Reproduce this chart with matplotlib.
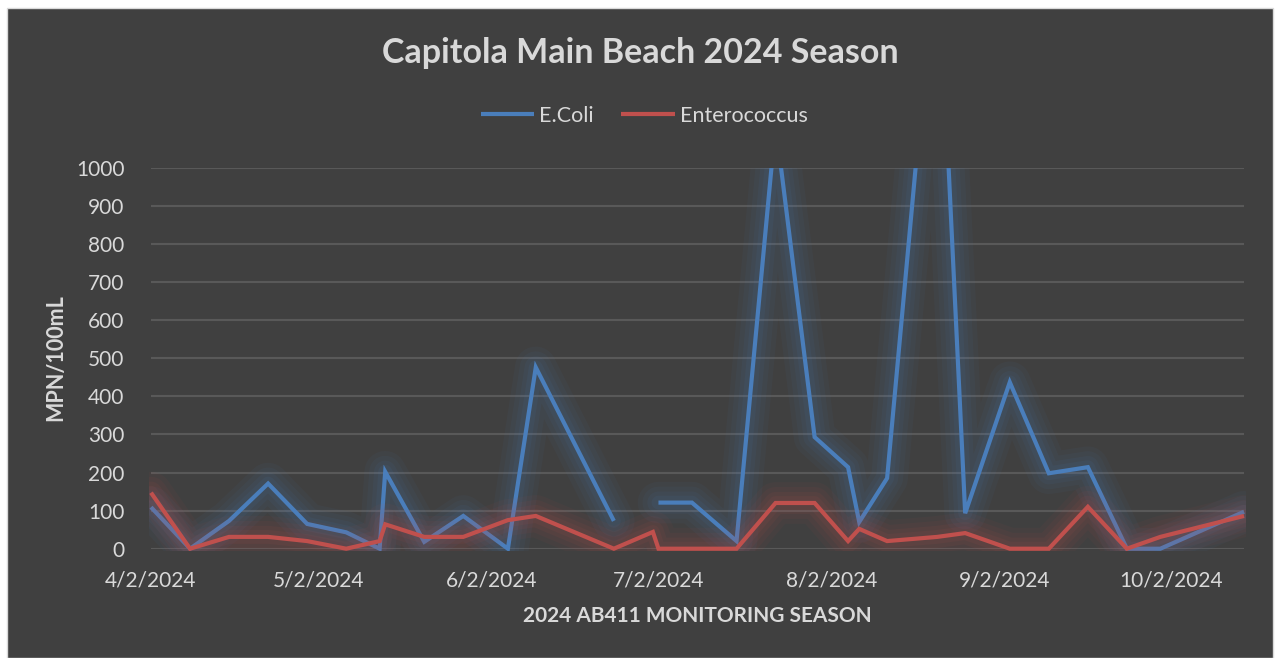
import numpy as np
import pandas as pd
import matplotlib
matplotlib.use("Agg")
import matplotlib.pyplot as plt
import matplotlib.dates as mdates
import matplotlib.patheffects as pe
from matplotlib.patches import Rectangle

plt.rcParams['font.family'] = ['Lato', 'DejaVu Sans']

# sample dates and results (MPN/100mL)
dates = ["2024-04-02", "2024-04-09", "2024-04-16", "2024-04-23", "2024-04-30",
         "2024-05-07", "2024-05-13", "2024-05-14", "2024-05-21", "2024-05-28",
         "2024-06-05", "2024-06-10", "2024-06-24", "2024-07-01", "2024-07-02",
         "2024-07-08", "2024-07-16", "2024-07-23", "2024-07-30", "2024-08-05",
         "2024-08-07", "2024-08-12", "2024-08-21", "2024-08-26", "2024-09-03",
         "2024-09-10", "2024-09-17", "2024-09-24", "2024-09-30", "2024-10-15"]
ecoli = [109, 0, 73, 171, 65, 43, 0, 202, 18, 86,
         0, 476, 73, None, 121, 121, 20, 1115, 293, 214,
         70, 185, 1620, 93, 437, 198, 214, 0, 0, 97]
entero = [147, 0, 31, 31, 20, 0, 20, 64, 31, 31,
          75, 86, 0, 44, 0, 0, 0, 120, 120, 20,
          52, 20, 31, 41, 0, 0, 110, 0, 31, 86]

x = pd.to_datetime(dates)
ecoli = np.array([np.nan if v is None else v for v in ecoli], dtype=float)
entero = np.array(entero, dtype=float)

W, H = 1276, 658
bg = '#404040'
txt = '#D9D9D9'
blue = '#4A7EBB'
red = '#C0504D'

fig = plt.figure(figsize=(W / 100, H / 100), dpi=100, facecolor='white')
fig.patches.append(Rectangle((7 / W, 0), (1273 - 7) / W, (H - 8) / H,
                             transform=fig.transFigure, facecolor=bg,
                             edgecolor='#d9d9d9', linewidth=1, zorder=-5))

ax = fig.add_axes([151 / W, (H - 548.7) / H, (1244 - 151) / W, 381 / H])
ax.set_facecolor('none')
ax.set_zorder(2)

for v in range(0, 1001, 100):
    ax.axhline(v, color='#595959', linewidth=1.5, zorder=1)


def glow(color):
    kw = dict(foreground=color, joinstyle='round', capstyle='round')
    return [pe.Stroke(linewidth=30, alpha=0.05, **kw),
            pe.Stroke(linewidth=23, alpha=0.06, **kw),
            pe.Stroke(linewidth=16, alpha=0.07, **kw),
            pe.Stroke(linewidth=10, alpha=0.08, **kw),
            pe.Normal()]


clip = Rectangle((-0.002, -0.006), 1.004, 1.006, transform=ax.transAxes)
for y, c, lab in [(ecoli, blue, 'E.Coli'), (entero, red, 'Enterococcus')]:
    ln, = ax.plot(x, y, color=c, linewidth=3, solid_joinstyle='miter',
                  solid_capstyle='butt', label=lab, zorder=3)
    ln.set_path_effects(glow(c))
    ln.set_clip_path(clip)

ax.set_xlim(pd.Timestamp("2024-04-02"), pd.Timestamp("2024-10-15"))
ax.set_ylim(0, 1000)
ax.set_yticks(range(0, 1001, 100))
ax.xaxis.set_major_locator(mdates.MonthLocator(bymonthday=2))
ax.xaxis.set_major_formatter(plt.FuncFormatter(
    lambda v, p: (lambda d: f"{d.month}/{d.day}/{d.year}")(mdates.num2date(v))))
ax.tick_params(axis='both', length=0, colors=txt, labelsize=15)
ax.tick_params(axis='y', pad=19)
ax.tick_params(axis='x', pad=16)
for s in ax.spines.values():
    s.set_visible(False)

fig.text(640 / W, 1 - 53 / H, "Capitola Main Beach 2024 Season", ha='center',
         va='center', fontsize=24.5, fontweight='bold', color=txt)
fig.text(697 / W, 1 - 616 / H, "2024 AB411 MONITORING SEASON", ha='center',
         va='center', fontsize=15, fontweight='bold', color=txt)
fig.text(56 / W, 1 - 358 / H, "MPN/100mL", ha='center', va='center',
         rotation=90, fontsize=15.5, fontweight='bold', color=txt)

leg = ax.legend(loc='center', bbox_to_anchor=(644 / W, 1 - 116 / H),
                bbox_transform=fig.transFigure, ncol=2, frameon=False,
                fontsize=15.5, handlelength=2.5, handletextpad=0.23,
                columnspacing=1.25, labelcolor=txt)
for h in leg.legend_handles:
    h.set_path_effects([])

fig.savefig('out.png', dpi=100, facecolor=fig.get_facecolor())
